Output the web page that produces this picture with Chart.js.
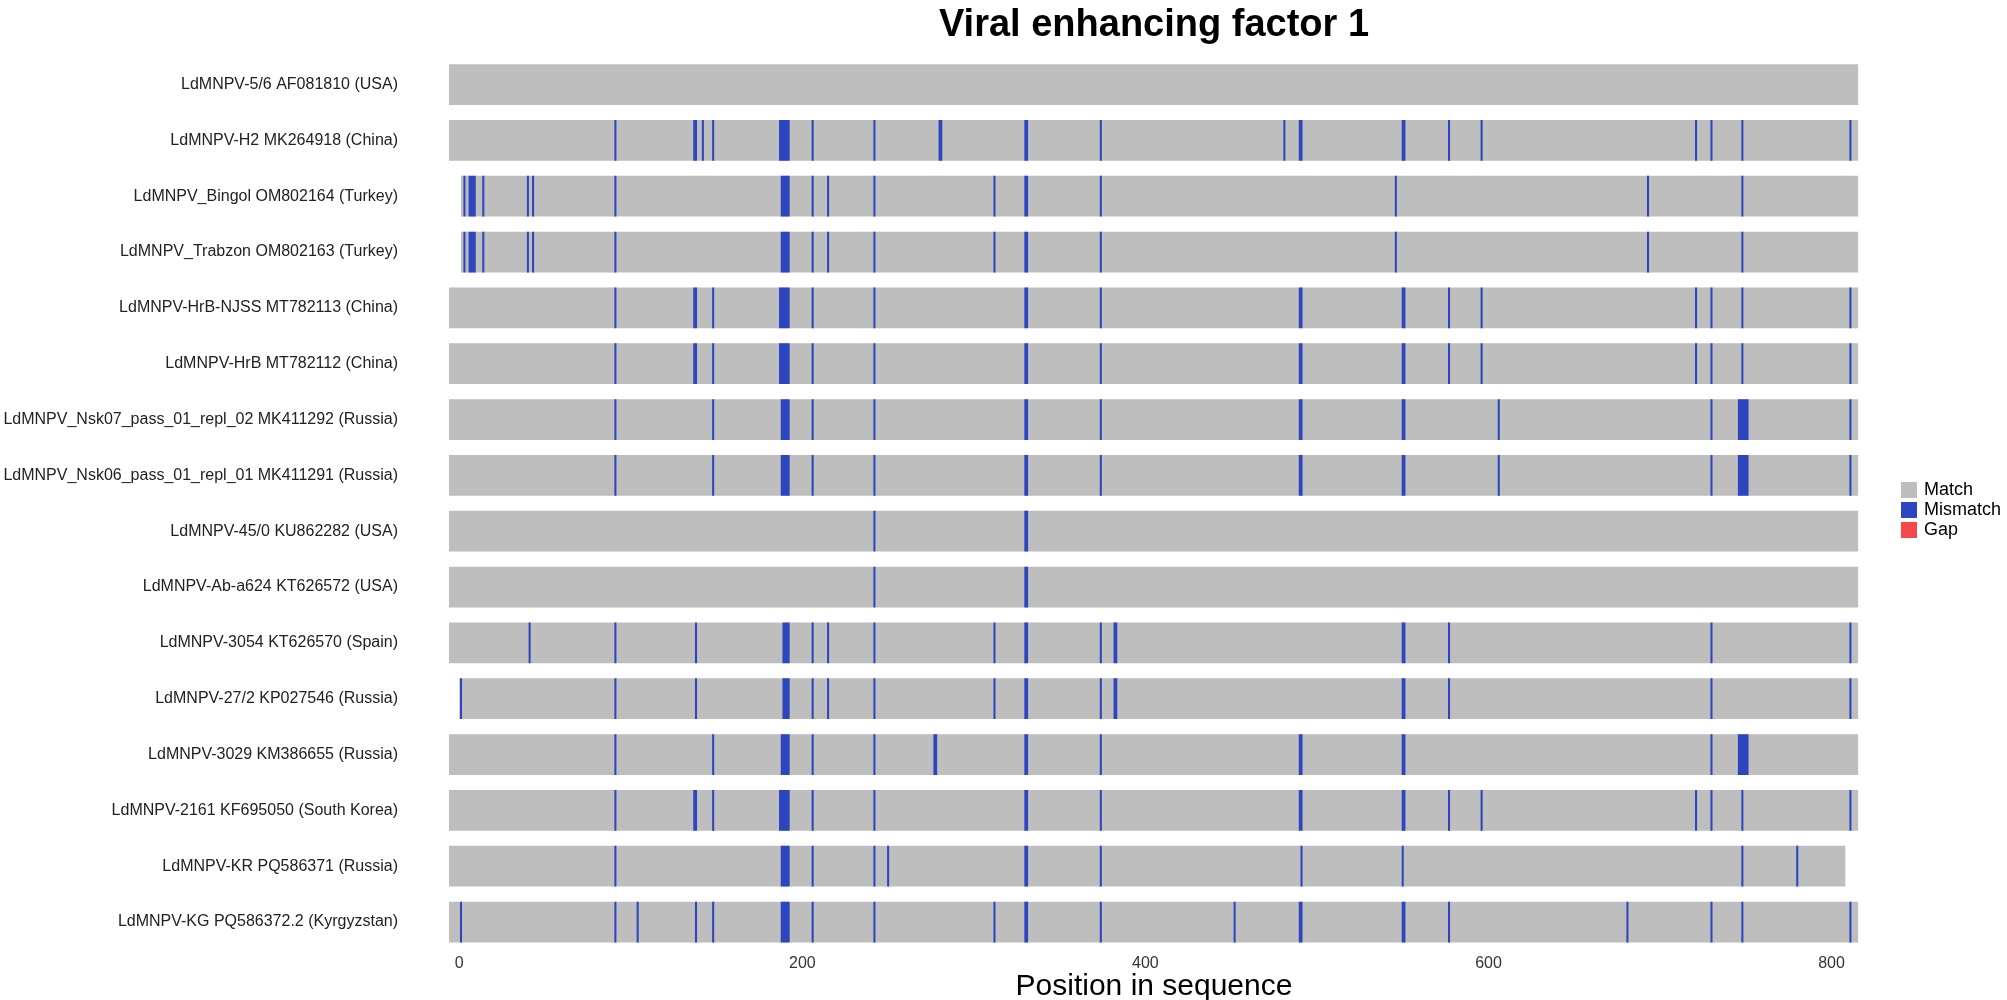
<!DOCTYPE html>
<html>
<head>
<meta charset="utf-8">
<title>Viral enhancing factor 1</title>
<script src="https://cdn.jsdelivr.net/npm/chart.js@4.4.1/dist/chart.umd.min.js"></script>
<style>
    html, body { margin: 0; padding: 0; background: #fff; }
    #wrap { width: 2007px; height: 1000px; }
</style>
</head>
<body>
<div id="wrap"><canvas id="alnCanvas" width="2007" height="1000"></canvas></div>
<script>
// sequences, top to bottom
const strainLabels = [
    'LdMNPV-5/6 AF081810 (USA)',
    'LdMNPV-H2 MK264918 (China)',
    'LdMNPV_Bingol OM802164 (Turkey)',
    'LdMNPV_Trabzon OM802163 (Turkey)',
    'LdMNPV-HrB-NJSS MT782113 (China)',
    'LdMNPV-HrB MT782112 (China)',
    'LdMNPV_Nsk07_pass_01_repl_02 MK411292 (Russia)',
    'LdMNPV_Nsk06_pass_01_repl_01 MK411291 (Russia)',
    'LdMNPV-45/0 KU862282 (USA)',
    'LdMNPV-Ab-a624 KT626572 (USA)',
    'LdMNPV-3054 KT626570 (Spain)',
    'LdMNPV-27/2 KP027546 (Russia)',
    'LdMNPV-3029 KM386655 (Russia)',
    'LdMNPV-2161 KF695050 (South Korea)',
    'LdMNPV-KR PQ586371 (Russia)',
    'LdMNPV-KG PQ586372.2 (Kyrgyzstan)'
];

// where each aligned sequence starts / ends
const seqStart = [-6, -6, 1, 1, -6, -6, -6, -6, -6, -6, -6, 0, -6, -6, -6, -6];
const seqEnd   = [815.5, 815.5, 815.5, 815.5, 815.5, 815.5, 815.5, 815.5, 815.5, 815.5, 815.5, 815.5, 815.5, 815.5, 808, 815.5];

// mismatch positions per sequence (same order as strainLabels)
const mismatchPos = [
    [],
    [91, 137, 138, 142, 148, 187, 188, 189, 190, 191, 192, 206, 242, 280, 281, 330, 331, 374, 481, 490, 491, 550, 551, 577, 596, 721, 730, 748, 811],
    [3, 6, 7, 8, 9, 14, 40, 43, 91, 188, 189, 190, 191, 192, 206, 215, 242, 312, 330, 331, 374, 546, 693, 748],
    [3, 6, 7, 8, 9, 14, 40, 43, 91, 188, 189, 190, 191, 192, 206, 215, 242, 312, 330, 331, 374, 546, 693, 748],
    [91, 137, 138, 148, 187, 188, 189, 190, 191, 192, 206, 242, 330, 331, 374, 490, 491, 550, 551, 577, 596, 721, 730, 748, 811],
    [91, 137, 138, 148, 187, 188, 189, 190, 191, 192, 206, 242, 330, 331, 374, 490, 491, 550, 551, 577, 596, 721, 730, 748, 811],
    [91, 148, 188, 189, 190, 191, 192, 206, 242, 330, 331, 374, 490, 491, 550, 551, 606, 730, 746, 747, 748, 749, 750, 751, 811],
    [91, 148, 188, 189, 190, 191, 192, 206, 242, 330, 331, 374, 490, 491, 550, 551, 606, 730, 746, 747, 748, 749, 750, 751, 811],
    [242, 330, 331],
    [242, 330, 331],
    [41, 91, 138, 189, 190, 191, 192, 206, 215, 242, 312, 330, 331, 374, 382, 383, 550, 551, 577, 730, 811],
    [1, 91, 138, 189, 190, 191, 192, 206, 215, 242, 312, 330, 331, 374, 382, 383, 550, 551, 577, 730, 811],
    [91, 148, 188, 189, 190, 191, 192, 206, 242, 277, 278, 330, 331, 374, 490, 491, 550, 551, 730, 746, 747, 748, 749, 750, 751],
    [91, 137, 138, 148, 187, 188, 189, 190, 191, 192, 206, 242, 330, 331, 374, 490, 491, 550, 551, 577, 596, 721, 730, 748, 811],
    [91, 188, 189, 190, 191, 192, 206, 242, 250, 330, 331, 374, 491, 550, 748, 780],
    [1, 91, 104, 138, 148, 188, 189, 190, 191, 192, 206, 242, 312, 330, 331, 374, 452, 490, 491, 550, 551, 577, 681, 730, 748, 811]
];

const xTickValues = [0, 200, 400, 600, 800];
const legendLabels = ['Match', 'Mismatch', 'Gap'];
const legendColors = ['#BEBEBE', '#2D46C0', '#F5484A'];

Chart.defaults.font.family = "'Liberation Sans', Arial, Helvetica, sans-serif";

// merge neighbouring positions into one block (a little wider than a column so single ones show)
function toRuns(positions) {
    let runs = [];
    let half = 0.6;
    positions.forEach(function (p) {
        let last = runs[runs.length - 1];
        if (last && p - half < last[1] + 0.5) last[1] = p + half;
        else runs.push([p - half, p + half]);
    });
    return runs;
}

let matchData = strainLabels.map((lab, i) => ({ y: lab, x: [seqStart[i], seqEnd[i]] }));
let mismatchData = [];
strainLabels.forEach((lab, i) => {
    toRuns(mismatchPos[i]).forEach(r => mismatchData.push({ y: lab, x: r }));
});

// ggplot-like legend on the right
const sideLegend = {
    id: 'sideLegend',
    afterDraw(chart) {
        const ctx = chart.ctx;
        ctx.save();
        ctx.font = "18px 'Liberation Sans', Arial, sans-serif";
        ctx.textBaseline = 'middle';
        ctx.textAlign = 'left';
        for (let i = 0; i < legendLabels.length; i++) {
            let cy = 490 + i * 20;
            ctx.fillStyle = legendColors[i];
            ctx.fillRect(1901, cy - 8, 16, 16);
            ctx.fillStyle = '#000';
            ctx.fillText(legendLabels[i], 1924, cy);
        }
        ctx.restore();
    }
};

new Chart(document.getElementById('alnCanvas'), {
    type: 'bar',
    data: {
        labels: strainLabels,
        datasets: [
            {
                label: 'Mismatch',
                data: mismatchData,
                backgroundColor: legendColors[1],
                grouped: false,
                order: 1,
                barPercentage: 0.73,
                categoryPercentage: 1
            },
            {
                label: 'Match',
                data: matchData,
                backgroundColor: legendColors[0],
                grouped: false,
                order: 2,
                barPercentage: 0.73,
                categoryPercentage: 1
            },
            {
                label: 'Gap',
                data: [],
                backgroundColor: legendColors[2],
                grouped: false,
                order: 0
            }
        ]
    },
    options: {
        indexAxis: 'y',
        responsive: false,
        animation: false,
        devicePixelRatio: 1,
        layout: { padding: { left: 0, right: 148, top: 0, bottom: 0 } },
        plugins: {
            legend: { display: false },
            tooltip: { enabled: false },
            title: {
                display: true,
                fullSize: false,
                text: 'Viral enhancing factor 1',
                color: '#000',
                font: { size: 38, weight: 'bold' },
                padding: { top: 3, bottom: 8 }
            }
        },
        scales: {
            x: {
                type: 'linear',
                min: -6,
                max: 816,
                grid: { display: false, drawTicks: false },
                border: { display: false },
                afterBuildTicks: s => { s.ticks = xTickValues.map(v => ({ value: v })); },
                ticks: { padding: 4, color: '#333', font: { size: 16 } },
                title: {
                    display: true,
                    text: 'Position in sequence',
                    color: '#000',
                    font: { size: 30, lineHeight: 0.9 },
                    padding: { top: 0, bottom: 0 }
                },
                afterFit: s => { s.height = 50; }
            },
            y: {
                type: 'category',
                offset: true,
                grid: { display: false, drawTicks: false },
                border: { display: false },
                ticks: { padding: 51, color: '#222', font: { size: 16 } },
                afterFit: s => {
                    s.width = 449;
                    s.paddingTop = 0;
                    s.paddingBottom = 0;
                }
            }
        }
    },
    plugins: [sideLegend]
});
</script>
</body>
</html>
